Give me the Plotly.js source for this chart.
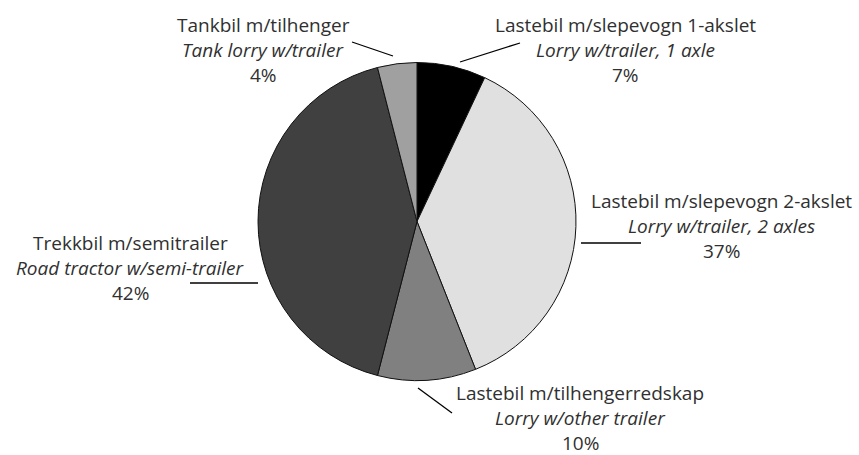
<!DOCTYPE html>
<html><head><meta charset="utf-8">
<script src="https://cdn.plot.ly/plotly-3.0.1.min.js"></script>
<style>html,body{margin:0;padding:0;background:#fff}#c{width:859px;height:455px}</style>
</head><body><div id="c"></div>
<script>
const labelsNo = ["Lastebil m/slepevogn 1-akslet","Lastebil m/slepevogn 2-akslet","Lastebil m/tilhengerredskap","Trekkbil m/semitrailer","Tankbil m/tilhenger"];
const labelsEn = ["Lorry w/trailer, 1 axle","Lorry w/trailer, 2 axles","Lorry w/other trailer","Road tractor w/semi-trailer","Tank lorry w/trailer"];
const shares = [7, 37, 10, 42, 4];
const colors = ["#000000","#e0e0e0","#808080","#404040","#a0a0a0"];

const W = 859, H = 455;
const px = x => x / W, py = y => 1 - y / H;

// middle-line centre of each label block, and leader lines (pixels)
const labelPos = [[625, 50],[721, 226],[580, 418],[130, 268],[263, 50]];
const leaders = [[[460,62],[520,43]],[[581,243],[641,243]],[[418,388],[452,413]],[[190,283],[258,283]],[[352,42],[393,56]]];
const LS = 25, FS = 19;

const annotations = [];
labelsNo.forEach((n, i) => {
  const lines = [n, '<i>' + labelsEn[i] + '</i>', shares[i] + '%'];
  lines.forEach((t, k) => annotations.push({
    xref:'paper', yref:'paper', x: px(labelPos[i][0]), y: py(labelPos[i][1] + (k-1)*LS),
    xanchor:'center', yanchor:'middle', showarrow:false, text: t,
    font:{family:'Open Sans, sans-serif', size:FS, color:'#303030'}
  }));
});
const shapes = leaders.map(l => ({
  type:'line', xref:'paper', yref:'paper',
  x0: px(l[0][0]), y0: py(l[0][1]), x1: px(l[1][0]), y1: py(l[1][1]),
  line:{color:'#000', width:1.3}
}));

const cx = 417, cy = 221.5, r = 159;
Plotly.newPlot('c', [{
  type:'pie', values: shares, labels: labelsNo, sort:false, direction:'clockwise', rotation:0,
  marker:{colors: colors, line:{color:'#111', width:1}},
  textinfo:'none', hoverinfo:'label+percent', showlegend:false,
  domain:{x:[px(cx-r), px(cx+r)], y:[py(cy+r), py(cy-r)]}
}], {
  width:W, height:H, margin:{l:0,r:0,t:0,b:0},
  paper_bgcolor:'#fff', annotations, shapes, showlegend:false
}, {displayModeBar:false, staticPlot:true});
</script></body></html>
